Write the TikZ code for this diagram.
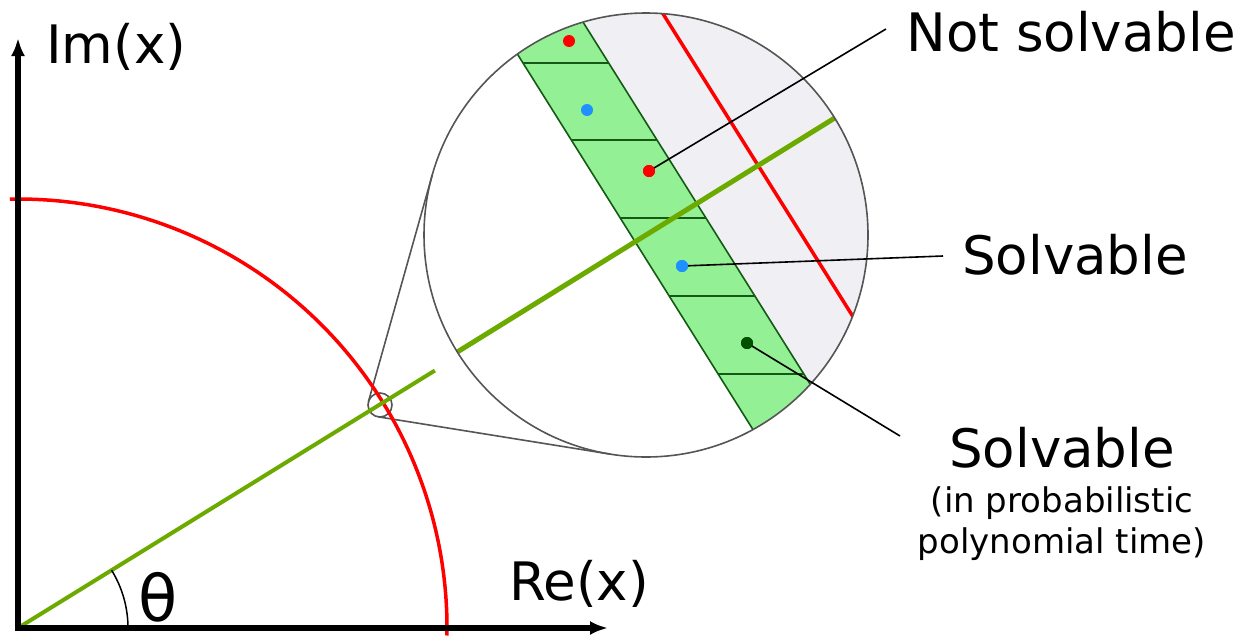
\documentclass[tikz,border=0pt]{standalone}
\usepackage{fontspec}
\setmainfont{DejaVu Sans}
\usetikzlibrary{arrows.meta}
\definecolor{grline}{RGB}{108,170,0}
\definecolor{bandfill}{RGB}{148,240,148}
\definecolor{bandedge}{RGB}{20,90,20}
\definecolor{grayfill}{RGB}{240,240,244}
\definecolor{dotblue}{RGB}{30,144,255}
\definecolor{dotgreen}{RGB}{0,80,0}
\definecolor{magedge}{RGB}{85,85,85}
\tikzset{
  axis/.style={line width=5.5pt, -{Latex[length=18pt,width=14pt]}},
  big/.style={font=\fontsize{53}{60}\selectfont, inner sep=0pt},
  small/.style={font=\fontsize{34}{42}\selectfont, inner sep=0pt},
  dot/.style={circle, fill=#1, inner sep=0pt, minimum size=12pt},
  leader/.style={line width=1.6pt, black},
  magline/.style={line width=1.6pt, magedge},
}
\begin{document}
\begin{tikzpicture}[x=1pt,y=-1pt]
\useasboundingbox (0,0) rectangle (1247,635);
\coordinate (O) at (18,628);
\coordinate (zc) at (380,405);
\coordinate (mc) at (646,235);
% tangent lines of magnifier
\draw[magline] (368.4,401.7) -- (432.3,174.8);
\draw[magline] (378.1,416.8) -- (610.8,454.2);
\draw[magline] (zc) circle[radius=12];
% magnified view
\begin{scope}
  \clip (mc) circle[radius=222];
  \fill[grayfill] (537.8,-50) -- (895.4,520) -- (1000,520) -- (1000,-50) -- cycle;
  \fill[bandfill] (452.1,-50) -- (809.7,520) -- (895.4,520) -- (537.8,-50) -- cycle;
  \draw[bandedge, line width=1.6pt] (452.1,-50) -- (809.7,520);
  \draw[bandedge, line width=1.6pt] (537.8,-50) -- (895.4,520);
  \foreach \yy in {63,140,218,296,374} {
    \draw[bandedge, line width=1.6pt] ({518+(\yy-55)*0.6273},\yy) -- ({583+(\yy-22)*0.6273},\yy);
  }
  \draw[red, line width=3.5pt] ({665-60*0.6273},-43) -- ({665+340*0.6273},357);
  \draw[grline, line width=5pt] (mc) ++(-31.8:240) -- ++(148.2:480);
\end{scope}
\draw[magline] (mc) circle[radius=222];
% dots and leaders
\node[dot=red] (d1) at (569,41) {};
\node[dot=dotblue] (d2) at (587,110) {};
\node[dot=red] (d3) at (649,171) {};
\node[dot=dotblue] (d4) at (682,266) {};
\node[dot=dotgreen] (d5) at (747,343) {};
\node[big, anchor=base] (ns) at (1071,51) {Not solvable};
\node[big, anchor=base] (s1) at (1075,274) {Solvable};
\node[big, anchor=base] (s2) at (1062,467) {Solvable};
\node[small, anchor=base] (p1) at (1062,512) {(in probabilistic};
\node[small, anchor=base] (p2) at (1062,553) {polynomial time)};
\coordinate (nsl) at (886,29);
\coordinate (sl) at (943,256);
\coordinate (ppl) at (900,436);
\draw[leader] (d3.center) -- (nsl);
\draw[leader] (d4.center) -- (sl);
\draw[leader] (d5.center) -- (ppl);
\node[dot=red] at (d3) {};
\node[dot=dotblue] at (d4) {};
\node[dot=dotgreen] at (d5) {};
% main plot
\draw[red, line width=3.5pt] (O) ++(-91.1:429) arc[start angle=-91.1, end angle=1, radius=429];
\draw[grline, line width=4pt] (O) -- ++(-31.7:490) coordinate (gend);
\draw[line width=1.5pt] (O) ++(0:110) arc[start angle=0, end angle=-31.7, radius=110];
\draw[axis] (18,631) -- (18,38);
\draw[axis] (15.5,628) -- (608,628);
\node[big, anchor=base west] (im) at (46,63) {Im(x)};
\node[big, anchor=base west] (re) at (509,600) {Re(x)};
\node[font=\fontsize{64}{70}\selectfont, inner sep=0pt, anchor=base west] (th) at (138,621) {θ};
\end{tikzpicture}
\end{document}
